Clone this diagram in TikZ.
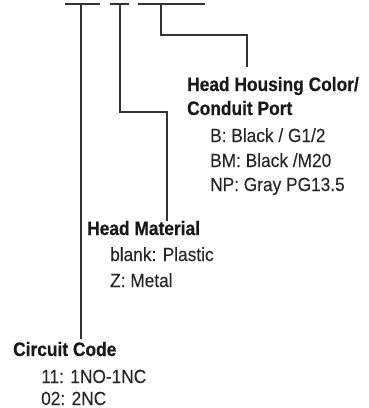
\documentclass[tikz,border=0pt]{standalone}
\usepackage{fontspec}
\setmainfont{Liberation Sans}[FakeStretch=0.91, FakeBold=0.15, BoldFeatures={FakeStretch=0.89, FakeBold=0.5}]
\usetikzlibrary{positioning,calc}

\tikzset{
    codebar/.style={line width=1.5pt, draw=black!80},
    leader/.style={line width=1.1pt, draw=black!80},
    heading/.style={anchor=base west, inner sep=0pt, font=\fontsize{19.5}{24}\selectfont\bfseries, text=black!90},
    option/.style={anchor=base west, inner sep=0pt, font=\fontsize{19}{24}\selectfont, text=black!85}
}

\begin{document}
\begin{tikzpicture}[x=1pt, y=-1pt]
    \useasboundingbox (0,0) rectangle (369,408);

    % Code bars
    \coordinate (bar1w) at (65,4);
    \coordinate (bar1e) at (100,4);
    \coordinate (bar2w) at (110,4);
    \coordinate (bar2e) at (129,4);
    \coordinate (bar3w) at (138,4);
    \coordinate (bar3e) at (205,4);
    \draw[codebar] (bar1w) -- (bar1e);
    \draw[codebar] (bar2w) -- (bar2e);
    \draw[codebar] (bar3w) -- (bar3e);
    \coordinate (tap1) at (81,4);
    \coordinate (tap2) at (120,4);
    \coordinate (tap3) at (161,4);

    % Head Housing Color / Conduit Port
    \node[heading] (housing) at (187,91) {Head Housing Color/};
    \node[heading] (housing2) at (187,115) {Conduit Port};
    \node[option] (housingB) at (210,142) {B: Black / G1/2};
    \node[option] (housingBM) at (210,167) {BM: Black /M20};
    \node[option] (housingNP) at (210,191) {NP: Gray PG13.5};
    \coordinate (turn3) at (247,35);
    \draw[leader] (tap3) |- (turn3) -- ([yshift=10pt]turn3 |- housing.north);

    % Head Material
    \node[heading] (material) at (87,235) {Head Material};
    \node[option] (materialP) at (110,261) {blank: Plastic};
    \node[option] (materialZ) at (110,287) {Z: Metal};
    \coordinate (turn2) at (167,112);
    \draw[leader] (tap2) |- (turn2) -- (turn2 |- material.north);

    % Circuit Code
    \node[heading] (circuit) at (13,356) {Circuit Code};
    \node[option] (circuit11) at (41,383) {11: 1NO-1NC};
    \node[option] (circuit02) at (41,405) {02: 2NC};
    \draw[leader] (tap1) -- ([yshift=3pt]tap1 |- circuit.north);
\end{tikzpicture}
\end{document}
